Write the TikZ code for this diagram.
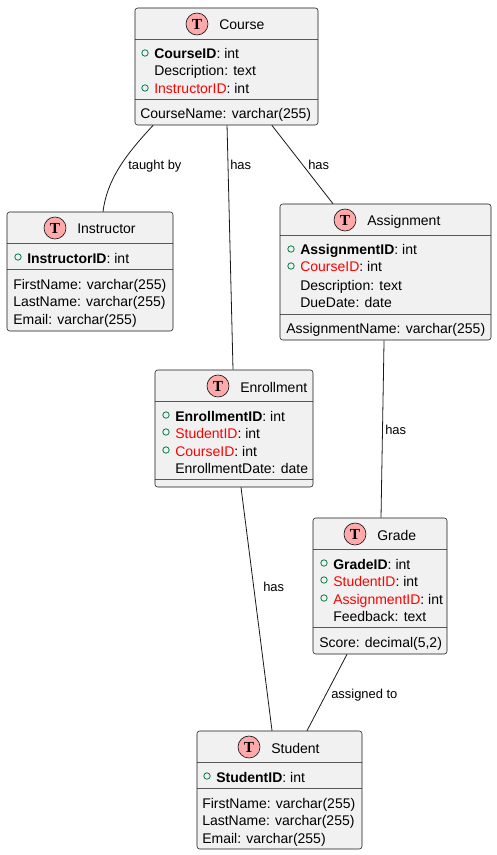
\documentclass[tikz,border=0pt]{standalone}
\usepackage{fontspec}
\setmainfont{Liberation Sans}
\newfontfamily\glyphfont{Liberation Serif}
\usetikzlibrary{calc}
\definecolor{boxfill}{HTML}{F1F1F1}
\definecolor{boxline}{HTML}{181818}
\definecolor{spotfill}{HTML}{FFAAAA}
\definecolor{pkline}{HTML}{038048}
\definecolor{fkred}{HTML}{FF0000}
\tikzset{
  x=0.75pt,y=-0.75pt,
  entity/.style={draw=boxline,fill=boxfill,line width=0.4pt,rounded corners=2pt,inner sep=0pt},
  divider/.style={draw=boxline,line width=0.4pt,opacity=.7},
  rowtext/.style={anchor=base west,inner sep=0pt,font=\fontsize{10.5}{12}\selectfont,text=black},
  titletext/.style={anchor=base west,inner sep=0pt,font=\fontsize{10.5}{12}\selectfont,text=black},
  spot/.style={circle,draw=boxline,fill=spotfill,line width=0.5pt,minimum size=16.5pt,inner sep=0pt,font=\glyphfont\fontsize{11.5}{12}\selectfont\bfseries},
  pk/.style={circle,draw=pkline,line width=0.6pt,fill=boxfill,minimum size=4.8pt,inner sep=0pt},
  relation/.style={draw=boxline,line width=0.6pt},
  rellabel/.style={anchor=base west,inner sep=0pt,font=\fontsize{9.7}{11}\selectfont,text=black},
}
% id, x1, y1, x2, y2, divider1, divider2, spot x, title
\newcommand{\entitybox}[9]{%
  \node[entity,minimum width={(#4-#2)*0.75pt},minimum height={(#5-#3)*0.75pt}] (#1) at ({(#2+#4)/2},{(#3+#5)/2}) {};
  \draw[divider] (#2,#6) -- (#4,#6);
  \draw[divider] (#2,#7) -- (#4,#7);
  \node[spot] (#1-spot) at (#8,{#3+16}) {T};
  \node[titletext] (#1-title) at ({#8+22},{#3+22}) {#9};
}
% name, text x, baseline y, text
\newcommand{\keyrow}[4]{%
  \node[pk] (#1-k) at ({#2-9},{#3-5}) {};
  \node[rowtext] (#1) at (#2,{#3+1}) {#4};
}
\newcommand{\plainrow}[4]{\node[rowtext] (#1) at (#2,{#3+1}) {#4};}
\newcommand{\fk}[1]{\textcolor{fkred}{#1}}
\begin{document}
\begin{tikzpicture}
\useasboundingbox (0,0) rectangle (496,855);
\fill[white] (0,0) rectangle (496,855);

\entitybox{course}{135}{8}{318}{125}{39}{99}{197}{Course}
\keyrow{c1}{154}{58}{\textbf{CourseID}: int}
\plainrow{c2}{154}{75}{Description: text}
\keyrow{c3}{154}{93}{\fk{InstructorID}: int}
\plainrow{c4}{140}{118}{CourseName: varchar(255)}

\entitybox{instructor}{7}{212}{173}{331}{243}{269}{55}{Instructor}
\keyrow{i1}{27}{262}{\textbf{InstructorID}: int}
\plainrow{i2}{13}{288}{FirstName: varchar(255)}
\plainrow{i3}{13}{305}{LastName: varchar(255)}
\plainrow{i4}{13}{323}{Email: varchar(255)}

\entitybox{assignment}{280}{204}{491}{340}{235}{314}{345}{Assignment}
\keyrow{a1}{300}{254}{\textbf{AssignmentID}: int}
\keyrow{a2}{300}{271}{\fk{CourseID}: int}
\plainrow{a3}{300}{289}{Description: text}
\plainrow{a4}{300}{306}{DueDate: date}
\plainrow{a5}{286}{332}{AssignmentName: varchar(255)}

\entitybox{enrollment}{155}{370}{313}{487}{401}{479}{218}{Enrollment}
\keyrow{e1}{175}{420}{\textbf{EnrollmentID}: int}
\keyrow{e2}{175}{437}{\fk{StudentID}: int}
\keyrow{e3}{175}{455}{\fk{CourseID}: int}
\plainrow{e4}{175}{472}{EnrollmentDate: date}

\entitybox{grade}{313}{518}{447}{654}{549}{627}{355}{Grade}
\keyrow{g1}{333}{568}{\textbf{GradeID}: int}
\keyrow{g2}{333}{585}{\fk{StudentID}: int}
\keyrow{g3}{333}{603}{\fk{AssignmentID}: int}
\plainrow{g4}{333}{620}{Feedback: text}
\plainrow{g5}{319}{646}{Score: decimal(5,2)}

\entitybox{student}{197}{731}{362}{849}{762}{788}{249}{Student}
\keyrow{s1}{216}{781}{\textbf{StudentID}: int}
\plainrow{s2}{202}{807}{FirstName: varchar(255)}
\plainrow{s3}{202}{824}{LastName: varchar(255)}
\plainrow{s4}{202}{842}{Email: varchar(255)}

\draw[relation] ([xshift=-55pt]course.south) .. controls ([xshift=-76pt,yshift=-22.5pt]course.south) and ([xshift=12.75pt,yshift=24pt]instructor.north) .. ([xshift=9.75pt]instructor.north);
\draw[relation] ([xshift=0.4pt]course.south) -- ([xshift=-0.75pt]enrollment.north);
\draw[relation] ([xshift=34pt]course.south) -- ([xshift=-39.4pt]assignment.north);
\draw[relation] ([xshift=-1.1pt]assignment.south) -- ([xshift=0.75pt]grade.north);
\draw[relation] ([xshift=5.25pt]enrollment.south) -- ([xshift=-5.6pt]student.north);
\draw[relation] ([xshift=-24.75pt]grade.south) -- ([xshift=20.6pt]student.north);

\node[rellabel] (l1) at (128,170) {taught by};
\node[rellabel] (l2) at (230,170) {has};
\node[rellabel] (l3) at (308,170) {has};
\node[rellabel] (l4) at (385,434) {has};
\node[rellabel] (l5) at (263,591) {has};
\node[rellabel] (l6) at (331,698) {assigned to};
\end{tikzpicture}
\end{document}
